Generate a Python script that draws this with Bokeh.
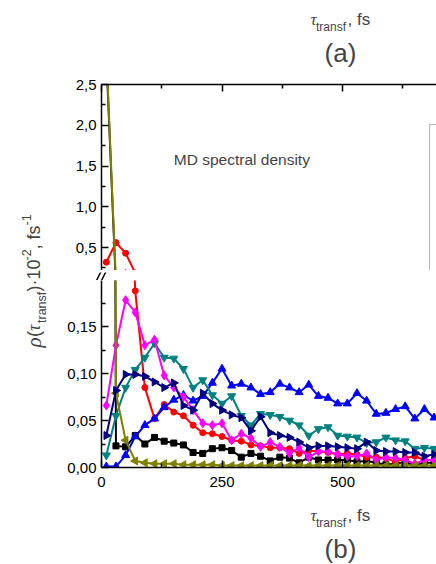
import math
from bokeh.plotting import figure
from bokeh.layouts import row, column
from bokeh.models import (Range1d, FixedTicker, Label, Legend, LegendItem,
                          CustomJSTickFormatter)
from bokeh.embed import file_html
from bokeh.resources import INLINE

# ---------------- data ----------------
tau = [10, 30, 50, 70, 90, 110, 130, 150, 170, 190, 210, 230, 250, 270, 290,
       310, 330, 350, 370, 390, 410, 430, 450, 470, 490, 510, 530, 550, 570,
       590, 610, 630, 650, 670, 690]

black = [2.85, 0.023, 0.022, 0.034, 0.025, 0.032, 0.028, 0.026, 0.024, 0.016,
         0.015, 0.020, 0.021, 0.018, 0.011, 0.015, 0.012, 0.007, 0.011, 0.010,
         0.005, 0.011, 0.008, 0.008, 0.008, 0.008, 0.006, 0.007, 0.005, 0.003,
         0.004, 0.006, 0.002, 0.005, 0.005]
red = [0.32, 0.56, 0.43, 0.188, 0.085, 0.052, 0.067, 0.059, 0.055, 0.045,
       0.037, 0.036, 0.033, 0.029, 0.028, 0.024, 0.023, 0.021, 0.021, 0.020,
       0.015, 0.018, 0.017, 0.016, 0.014, 0.015, 0.014, 0.011, 0.011, 0.010,
       0.006, 0.010, 0.012, 0.008, 0.008]
blue = [0.001, 0.001, 0.013, 0.033, 0.045, 0.052, 0.064, 0.072, 0.077, 0.071,
        0.076, 0.090, 0.105, 0.087, 0.089, 0.085, 0.078, 0.080, 0.089, 0.085,
        0.080, 0.088, 0.076, 0.074, 0.068, 0.068, 0.079, 0.071, 0.057, 0.058,
        0.062, 0.065, 0.052, 0.062, 0.053]
teal = [0.013, 0.055, 0.085, 0.104, 0.117, 0.132, 0.117, 0.116, 0.105, 0.085,
        0.093, 0.077, 0.068, 0.076, 0.055, 0.045, 0.057, 0.056, 0.054, 0.050,
        0.045, 0.034, 0.041, 0.043, 0.034, 0.033, 0.032, 0.026, 0.027, 0.032,
        0.029, 0.028, 0.020, 0.021, 0.020]
magenta = [0.066, 0.130, 0.178, 0.165, 0.130, 0.136, 0.098, 0.085, 0.075,
           0.061, 0.047, 0.045, 0.047, 0.029, 0.036, 0.031, 0.022, 0.027,
           0.022, 0.015, 0.021, 0.011, 0.017, 0.017, 0.014, 0.012, 0.012,
           0.015, 0.008, 0.011, 0.010, 0.008, 0.004, 0.008, 0.008]
olive = [2.9, 0.079, 0.029, 0.007, 0.005, 0.004, 0.004, 0.004, 0.003, 0.003,
         0.003, 0.003, 0.002, 0.002, 0.002, 0.002, 0.002, 0.002, 0.002, 0.002,
         0.002, 0.002, 0.002, 0.002, 0.002, 0.002, 0.002, 0.002, 0.002, 0.002,
         0.002, 0.002, 0.002, 0.002, 0.002]
navy = [0.034, 0.082, 0.099, 0.099, 0.097, 0.091, 0.085, 0.090, 0.066, 0.061,
        0.079, 0.068, 0.061, 0.056, 0.053, 0.039, 0.054, 0.037, 0.034, 0.032,
        0.027, 0.021, 0.023, 0.023, 0.022, 0.021, 0.020, 0.027, 0.018, 0.017,
        0.017, 0.016, 0.016, 0.012, 0.014]

series = [
    (black, "#000000", "square", 0.0, 6),
    (red, "#FF0000", "circle", 0.0, 6),
    (blue, "#0000FF", "triangle", 0.0, 8),
    (teal, "#008080", "inverted_triangle", 0.0, 8),
    (magenta, "#FF00FF", "diamond", 0.0, 9),
    (olive, "#808000", "triangle", math.pi / 2, 8),
    (navy, "#000080", "triangle", -math.pi / 2, 8),
]

x_ticks = [0, 250, 500]
x_minor = [125, 375, 625]
upper_ticks = [0.5, 1.0, 1.5, 2.0, 2.5]
upper_minor = [0.25, 0.75, 1.25, 1.75, 2.25]
lower_ticks = [0.0, 0.05, 0.10, 0.15]
lower_minor = [0.025, 0.075, 0.125, 0.175]

FONT = "Liberation Sans"
SERIF = "Liberation Serif"

# page geometry (the page is drawn from its top-left corner)
LAB_W = 53          # width of the rotated y-title strip
COL_W = 436 - LAB_W
FRAME_L = 101
UP_TOP, UP_BOT = 84, 270      # upper frame (page y)
LO_TOP, LO_BOT = 280, 467     # lower frame (page y)
TITLE_A_H = 76
LO_BORDER = 32
UP_PX_PER_UNIT = 81.5
LO_PX_PER_UNIT = 940.0

xr = Range1d(0, 695)


def style_axis(ax):
    ax.axis_line_width = 1.5
    ax.axis_line_color = "black"
    ax.major_tick_in = 7
    ax.major_tick_out = 0
    ax.minor_tick_in = 4
    ax.minor_tick_out = 0
    ax.major_tick_line_width = 1.5
    ax.minor_tick_line_width = 1.5
    ax.major_label_text_font = FONT
    ax.major_label_text_font_size = "15px"
    ax.major_label_text_color = "black"


def clean(f):
    f.grid.visible = False
    f.outline_line_color = None
    f.background_fill_color = "white"
    f.border_fill_color = "white"
    return f


def page_fig(height, y_top, width=COL_W, x0=LAB_W, border_left=0):
    # a strip whose data coordinates are page pixels
    f = figure(width=width, height=height,
               x_range=Range1d(x0 + border_left, x0 + width),
               y_range=Range1d(y_top + height, y_top), output_backend="svg",
               toolbar_location=None, min_border=0,
               min_border_left=border_left,
               x_axis_location=None, y_axis_location=None)
    return clean(f)


# ---- upper part of the broken axis ----
up_h = (UP_BOT - UP_TOP) + (UP_TOP - TITLE_A_H)
up_y0 = 2.5 - (UP_BOT - UP_TOP) / UP_PX_PER_UNIT
up = clean(figure(width=COL_W, height=up_h, x_range=xr,
                  y_range=Range1d(up_y0, 2.5), x_axis_location="above",
                  output_backend="svg", toolbar_location=None,
                  min_border_left=FRAME_L - LAB_W, min_border_right=0,
                  min_border_top=UP_TOP - TITLE_A_H, min_border_bottom=0))

# ---- lower part ----
lo_h = (LO_BOT - LO_TOP) + LO_BORDER
lo_y1 = (LO_BOT - LO_TOP) / LO_PX_PER_UNIT
lo = clean(figure(width=COL_W, height=lo_h, x_range=xr,
                  y_range=Range1d(0.0, lo_y1), x_axis_location="below",
                  output_backend="svg", toolbar_location=None,
                  min_border_left=FRAME_L - LAB_W, min_border_right=0,
                  min_border_top=0, min_border_bottom=LO_BORDER))

for f in (up, lo):
    style_axis(f.xaxis[0])
    style_axis(f.yaxis[0])
    f.xaxis[0].ticker = FixedTicker(ticks=x_ticks, minor_ticks=x_minor)

up.xaxis[0].formatter = CustomJSTickFormatter(code="return '';")
up.xaxis[0].major_label_text_font_size = "0px"
up.xaxis[0].major_label_standoff = 0
up.yaxis[0].ticker = FixedTicker(ticks=upper_ticks, minor_ticks=upper_minor)
up.yaxis[0].formatter = CustomJSTickFormatter(
    code="return tick.toFixed(1).replace('.', ',');")
lo.yaxis[0].ticker = FixedTicker(ticks=lower_ticks, minor_ticks=lower_minor)
lo.yaxis[0].formatter = CustomJSTickFormatter(
    code="return tick.toFixed(2).replace('.', ',');")
lo.xaxis[0].formatter = CustomJSTickFormatter(code="return tick.toFixed(0);")
lo.xaxis[0].major_label_standoff = 9
lo.yaxis[0].major_label_standoff = 5
up.yaxis[0].major_label_standoff = 5

up_lines = []
for vals, col, mk, ang, sz in series:
    for f in (up, lo):
        ln = f.line(tau, vals, line_color=col, line_width=2)
        f.scatter(tau, vals, marker=mk, angle=ang, size=sz, fill_color=col,
                  line_color=col)
        if f is up:
            up_lines.append(ln)

# legend box (its entries lie beyond the cropped right edge)
legend = Legend(items=[LegendItem(label=" ", renderers=[r]) for r in up_lines],
                location=(429 - FRAME_L, UP_BOT - 286),
                border_line_color="#707070",
                border_line_width=1.5, padding=10, spacing=0, margin=0,
                label_height=20, glyph_height=20, background_fill_alpha=1.0)
up.add_layout(legend)

up.add_layout(Label(x=150, y=1.58, text="MD spectral density",
                    text_font=FONT, text_font_size="15.5px",
                    text_baseline="alphabetic"))

# ---- title strips (a) / (b): frame aligned with the plots' frames ----
ta = page_fig(TITLE_A_H, 0, border_left=FRAME_L - LAB_W)
tb_top = LO_BOT + LO_BORDER
tb = page_fig(564 - tb_top, tb_top, border_left=FRAME_L - LAB_W)


def title(f, base_y, letter):
    f.add_layout(Label(x=310, y=base_y, text="τ", text_font=SERIF,
                       text_font_style="italic", text_font_size="17px",
                       text_baseline="alphabetic"))
    f.add_layout(Label(x=315.5, y=base_y + 7.5, text="transf",
                       text_font=FONT, text_font_size="12px",
                       text_baseline="alphabetic"))
    f.add_layout(Label(x=347, y=base_y, text=", fs",
                       text_font=FONT, text_font_size="17px",
                       text_baseline="alphabetic"))
    f.add_layout(Label(x=340, y=base_y + 33.5, text=letter,
                       text_font=FONT, text_font_size="26px",
                       text_align="center", text_baseline="alphabetic"))


title(ta, 19, "(a)")
title(tb, 515, "(b)")

# ---- gap strip with the axis-break marks ----
gap = page_fig(LO_TOP - UP_BOT, UP_BOT)
brk_x0 = [93, 98]
brk_x1 = [101, 106]
gap.segment(x0=brk_x0, y0=[284, 284], x1=brk_x1, y1=[268, 268],
            line_color="black", line_width=1.5)

# ---------------- rotated y-axis title ----------------
lab = page_fig(564, 0, width=LAB_W, x0=0)

ylab_parts = [
    ("ρ", SERIF, "21px", "italic", 33.5, 347),
    ("(", FONT, "18px", "normal", 33.5, 336.5),
    ("τ", SERIF, "18px", "italic", 33.5, 330.5),
    ("transf", FONT, "12.5px", "normal", 41.5, 322.5),
    (")", FONT, "18px", "normal", 33.5, 291),
    ("·10", FONT, "18px", "normal", 33.5, 285),
    ("-2", FONT, "12.5px", "normal", 26, 260),
    (", fs", FONT, "18px", "normal", 33.5, 249),
    ("-1", FONT, "12.5px", "normal", 26, 225),
]
for txt, fnt, size, style, bx, sy in ylab_parts:
    lab.add_layout(Label(x=bx, y=sy, text=txt, text_font=fnt,
                         text_font_size=size, text_font_style=style,
                         angle=math.pi / 2, text_baseline="alphabetic",
                         text_align="left"))

p = row(lab, column(ta, up, row(gap), lo, tb))
open("out.html", "w").write(file_html(p, INLINE))
